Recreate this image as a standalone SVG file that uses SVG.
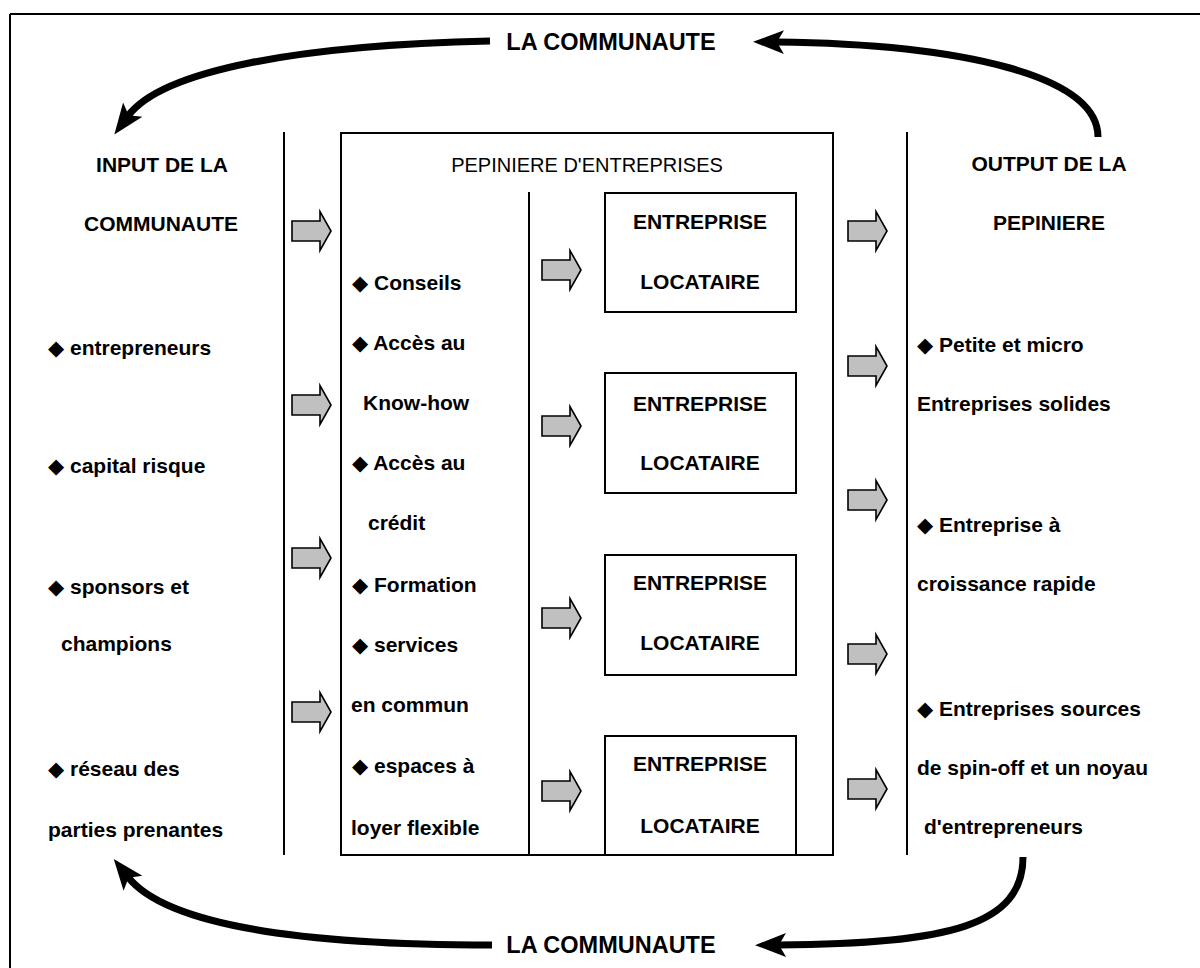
<svg xmlns="http://www.w3.org/2000/svg" width="1200" height="968" viewBox="0 0 1200 968">
<style>
  text { font-family: "Liberation Sans", Arial, "DejaVu Sans", sans-serif; fill: #000; }
  .b { font-size: 21px; font-weight: bold; }
  .hd { font-size: 21px; font-weight: bold; text-anchor: middle; }
  .ent { font-size: 21px; font-weight: bold; text-anchor: middle; }
  .com { font-size: 23.5px; font-weight: bold; text-anchor: middle; }
  .pep { font-size: 20px; font-weight: normal; text-anchor: middle; }
  .ln { stroke: #000; stroke-width: 2; fill: none; }
  .box { stroke: #000; stroke-width: 2; fill: #fff; }
  .blk { fill: #c0c0c0; stroke: #000; stroke-width: 1.6; stroke-linejoin: miter; }
  .curve { fill: none; stroke: #000; stroke-width: 7; }
</style>
<defs>
  <path id="blk" d="M0,-10 H28 V-19.5 L39,0 L28,19.5 V10 H0 Z"/>
  <marker id="head" markerUnits="userSpaceOnUse" markerWidth="34" markerHeight="26" refX="8" refY="12" orient="auto" viewBox="0 0 34 24">
    <path d="M0,0 L31,12 L0,24 L7,12 Z" fill="#000"/>
  </marker>
</defs>

<g id="frame">
  <line class="ln" x1="10" y1="14" x2="1200" y2="14"/>
  <line class="ln" x1="10" y1="14" x2="10" y2="968"/>
</g>

<g id="input">
  <line class="ln" x1="284" y1="132" x2="284" y2="855"/>
  <text class="hd" x="162" y="172">INPUT DE LA</text>
  <text class="hd" x="161" y="231">COMMUNAUTE</text>
  <text class="b" x="48" y="355">◆ entrepreneurs</text>
  <text class="b" x="48" y="473">◆ capital risque</text>
  <text class="b" x="48" y="594">◆ sponsors et</text>
  <text class="b" x="61" y="651">champions</text>
  <text class="b" x="48" y="776">◆ réseau des</text>
  <text class="b" x="48" y="837">parties prenantes</text>
</g>

<g id="pepiniere">
  <rect class="box" x="341" y="133" width="492" height="722"/>
  <line class="ln" x1="529" y1="192" x2="529" y2="855"/>
  <text class="pep" x="587" y="172">PEPINIERE D'ENTREPRISES</text>
  <text class="b" x="352" y="290">◆ Conseils</text>
  <text class="b" x="352" y="350">◆ Accès au</text>
  <text class="b" x="363" y="410">Know-how</text>
  <text class="b" x="352" y="470">◆ Accès au</text>
  <text class="b" x="368" y="530">crédit</text>
  <text class="b" x="352" y="592">◆ Formation</text>
  <text class="b" x="352" y="652">◆ services</text>
  <text class="b" x="351" y="712">en commun</text>
  <text class="b" x="352" y="773">◆ espaces à</text>
  <text class="b" x="351" y="835">loyer flexible</text>
</g>

<g id="locataire1">
  <rect class="box" x="605" y="193" width="191" height="119"/>
  <text class="ent" x="700" y="229">ENTREPRISE</text>
  <text class="ent" x="700" y="289">LOCATAIRE</text>
</g>
<g id="locataire2">
  <rect class="box" x="605" y="373" width="191" height="120"/>
  <text class="ent" x="700" y="411">ENTREPRISE</text>
  <text class="ent" x="700" y="470">LOCATAIRE</text>
</g>
<g id="locataire3">
  <rect class="box" x="605" y="555" width="191" height="120"/>
  <text class="ent" x="700" y="590">ENTREPRISE</text>
  <text class="ent" x="700" y="650">LOCATAIRE</text>
</g>
<g id="locataire4">
  <rect class="box" x="605" y="736" width="191" height="119"/>
  <text class="ent" x="700" y="771">ENTREPRISE</text>
  <text class="ent" x="700" y="833">LOCATAIRE</text>
</g>

<g id="output">
  <line class="ln" x1="907" y1="132" x2="907" y2="855"/>
  <text class="hd" x="1049" y="171">OUTPUT DE LA</text>
  <text class="hd" x="1049" y="230">PEPINIERE</text>
  <text class="b" x="917" y="352">◆ Petite et micro</text>
  <text class="b" x="917" y="411">Entreprises solides</text>
  <text class="b" x="917" y="532">◆ Entreprise à</text>
  <text class="b" x="917" y="591">croissance rapide</text>
  <text class="b" x="917" y="716">◆ Entreprises sources</text>
  <text class="b" x="917" y="775">de spin-off et un noyau</text>
  <text class="b" x="924" y="834">d'entrepreneurs</text>
</g>

<g id="communaute-top">
  <text class="com" x="611" y="50">LA COMMUNAUTE</text>
</g>
<g id="communaute-bottom">
  <text class="com" x="611" y="953">LA COMMUNAUTE</text>
</g>

<g id="connectors">
  <use href="#blk" class="blk" x="292" y="231"/>
  <use href="#blk" class="blk" x="292" y="405"/>
  <use href="#blk" class="blk" x="292" y="558"/>
  <use href="#blk" class="blk" x="292" y="712"/>
  <use href="#blk" class="blk" x="542" y="270"/>
  <use href="#blk" class="blk" x="542" y="426"/>
  <use href="#blk" class="blk" x="542" y="618"/>
  <use href="#blk" class="blk" x="542" y="791"/>
  <use href="#blk" class="blk" x="848" y="231"/>
  <use href="#blk" class="blk" x="848" y="366"/>
  <use href="#blk" class="blk" x="848" y="500"/>
  <use href="#blk" class="blk" x="848" y="654"/>
  <use href="#blk" class="blk" x="848" y="789"/>
  <path class="curve" marker-end="url(#head)" d="M1098,137 C1098,75 960,44 776,42"/>
  <path class="curve" marker-end="url(#head)" d="M490,41 C300,45 162,70 128,116"/>
  <path class="curve" marker-end="url(#head)" d="M492,945 C300,945 166,925 128,877"/>
  <path class="curve" marker-end="url(#head)" d="M1023,857 C1023,925 950,944 778,945"/>
</g>
</svg>
